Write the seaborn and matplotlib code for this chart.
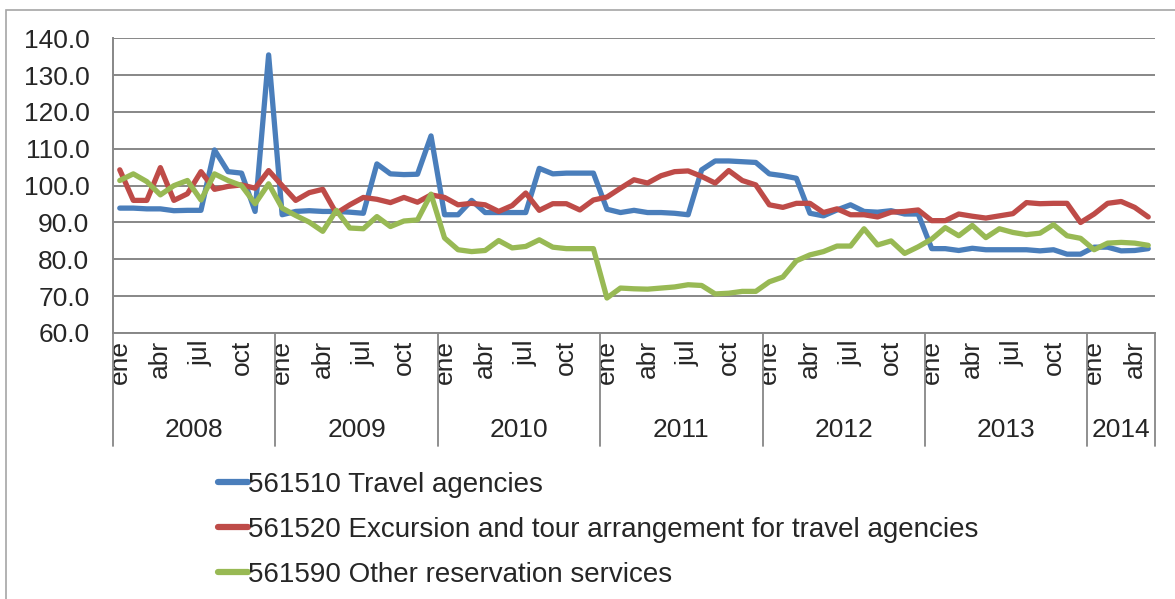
import numpy as np
import pandas as pd
import matplotlib
matplotlib.use("Agg")
import matplotlib.pyplot as plt
import matplotlib.transforms as mtransforms
import seaborn as sns

# Datos mensuales ene 2008 - may 2014
meses = ["ene", "feb", "mar", "abr", "may", "jun", "jul", "ago", "sep", "oct", "nov", "dic"]
anios = [2008, 2009, 2010, 2011, 2012, 2013, 2014]
meses_por_anio = [12, 12, 12, 12, 12, 12, 5]

travel_agencies = [
    93.9, 93.9, 93.7, 93.7, 93.2, 93.3, 93.3, 109.7, 103.8, 103.4, 93.0, 135.5,
    92.1, 93.0, 93.2, 93.0, 93.0, 92.8, 92.5, 105.9, 103.2, 103.0, 103.1, 113.5,
    92.1, 92.1, 96.0, 92.7, 92.7, 92.7, 92.7, 104.7, 103.2, 103.4, 103.4, 103.4,
    93.6, 92.7, 93.3, 92.7, 92.7, 92.5, 92.1, 104.3, 106.7, 106.7, 106.5, 106.3,
    103.2, 102.7, 102.0, 92.5, 91.8, 93.4, 94.8, 93.0, 92.8, 93.2, 92.3, 92.3,
    82.9, 82.9, 82.4, 83.0, 82.6, 82.6, 82.6, 82.6, 82.3, 82.6, 81.4, 81.4,
    83.3, 83.3, 82.3, 82.4, 82.9,
]
excursion_tours = [
    104.3, 96.0, 96.0, 104.9, 96.0, 97.8, 103.8, 99.0, 99.8, 100.2, 99.3, 104.1,
    100.0, 96.0, 98.1, 99.0, 92.5, 94.8, 96.8, 96.3, 95.4, 96.8, 95.5, 97.5,
    96.8, 94.8, 95.2, 94.8, 93.0, 94.6, 98.0, 93.3, 95.1, 95.1, 93.4, 96.1,
    96.9, 99.3, 101.6, 100.7, 102.7, 103.8, 104.0, 102.5, 100.7, 104.1, 101.4, 100.2,
    94.8, 94.1, 95.2, 95.2, 92.7, 93.7, 92.1, 92.1, 91.5, 92.8, 93.0, 93.4,
    90.5, 90.5, 92.3, 91.7, 91.2, 91.8, 92.4, 95.4, 95.1, 95.2, 95.2, 90.0,
    92.3, 95.2, 95.7, 94.1, 91.5,
]
other_reservation = [
    101.4, 103.2, 101.1, 97.5, 100.0, 101.4, 96.1, 103.2, 101.4, 100.0, 95.1, 100.5,
    93.9, 91.9, 90.1, 87.6, 93.3, 88.5, 88.3, 91.6, 88.9, 90.4, 90.7, 97.7,
    85.8, 82.6, 82.1, 82.4, 85.1, 83.1, 83.5, 85.3, 83.3, 82.9, 82.9, 82.9,
    69.5, 72.2, 72.0, 71.9, 72.2, 72.5, 73.1, 72.9, 70.6, 70.8, 71.3, 71.3,
    73.9, 75.2, 79.6, 81.2, 82.1, 83.6, 83.6, 88.3, 83.9, 85.0, 81.6, 83.4,
    85.5, 88.6, 86.4, 89.2, 85.9, 88.3, 87.3, 86.7, 87.1, 89.4, 86.4, 85.7,
    82.6, 84.4, 84.6, 84.4, 83.8,
]

series = {
    "561510 Travel agencies": travel_agencies,
    "561520 Excursion and tour arrangement for travel agencies": excursion_tours,
    "561590 Other reservation services": other_reservation,
}
colores = ["#4a7ebb", "#be4b48", "#98b954"]
gris = "#878787"

etiquetas_mes = [meses[m] for n in meses_por_anio for m in range(n)]
n = len(etiquetas_mes)
df = pd.concat(
    [pd.DataFrame({"idx": np.arange(n), "valor": v, "serie": k}) for k, v in series.items()],
    ignore_index=True,
)

sns.set_style("white")
plt.rcParams["font.family"] = ["Liberation Sans", "DejaVu Sans"]
FS = 19

fig = plt.figure(figsize=(11.75, 5.99), dpi=100)
W, H = 1175, 599
ax = fig.add_axes([113 / W, 1 - 333 / H, (1155 - 113) / W, (333 - 38.3) / H])

sns.lineplot(data=df, x="idx", y="valor", hue="serie", palette=colores,
             linewidth=3.8, sort=False, errorbar=None, ax=ax)

# eje y
ax.set_ylim(60, 140)
ax.set_yticks(np.arange(60, 141, 10))
ax.set_yticklabels([f"{t:.1f}" for t in np.arange(60, 141, 10)], fontsize=FS)
ax.yaxis.grid(True, color=gris, lw=1.4)
ax.set_axisbelow(True)
ax.tick_params(axis="y", length=6, width=1.1, color=gris, pad=11)

# eje x de categorias con dos niveles
ax.set_xlim(-0.5, n - 0.5)
pos_lbl = [i for i, m in enumerate(etiquetas_mes) if m in ("ene", "abr", "jul", "oct")]
ax.set_xticks(pos_lbl)
ax.set_xticklabels([etiquetas_mes[i] for i in pos_lbl], rotation=90, fontsize=FS)
ax.set_xticks(np.arange(n + 1) - 0.5, minor=True)
ax.tick_params(axis="x", which="major", length=0, pad=5)
ax.tick_params(axis="x", which="minor", length=46, width=1.1, color=gris)
ax.set_xlabel("")
ax.set_ylabel("")

for s in ("top", "right"):
    ax.spines[s].set_visible(False)
for s in ("left", "bottom"):
    ax.spines[s].set_color(gris)
    ax.spines[s].set_linewidth(1.4)

trans = mtransforms.blended_transform_factory(ax.transData, ax.transAxes)
limites = np.concatenate([[0], np.cumsum(meses_por_anio)]) - 0.5
for b in limites:
    ax.axvline(b, ymin=-0.385, ymax=0, clip_on=False, color=gris, lw=1.3)
for a, lo, hi in zip(anios, limites[:-1], limites[1:]):
    ax.text((lo + hi) / 2, -0.33, str(a), transform=trans, ha="center", va="center", fontsize=FS)

# leyenda
handles, labels = ax.get_legend_handles_labels()
for h in handles:
    h.set_linewidth(4.5)
ax.legend(handles, labels, loc="upper left", bbox_to_anchor=(218 / W, 1 - 472 / H),
          bbox_transform=fig.transFigure, frameon=False, fontsize=20,
          handlelength=1.08, handletextpad=0.0, labelspacing=0.68,
          borderpad=0, borderaxespad=0)

# borde del area del grafico
fig.add_artist(plt.Rectangle((6 / W, -0.5), 2, (1 - 10 / H) + 0.5, transform=fig.transFigure,
                             fill=False, edgecolor="#a6a6a6", lw=1.2))

fig.savefig("out.png", dpi=100)
